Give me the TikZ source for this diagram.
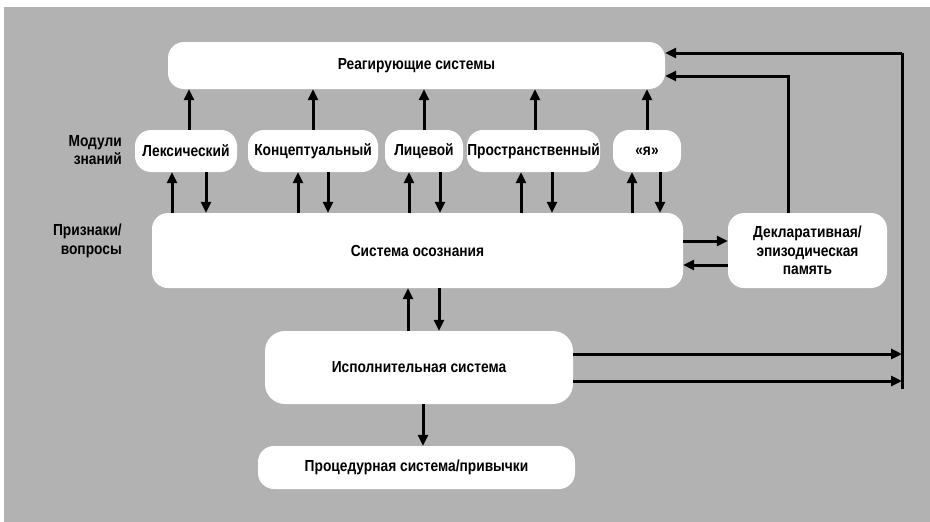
\documentclass[tikz,border=0pt]{standalone}
\usepackage{fontspec}
\setmainfont{Liberation Sans}[FakeStretch=0.86]
\usetikzlibrary{arrows.meta}
\definecolor{bggray}{RGB}{178,178,178}
\begin{document}
\begin{tikzpicture}[x=1pt,y=-1pt,
  box/.style={fill=white,draw=none,rounded corners=16pt,inner sep=0pt,align=center,
    font=\fontsize{16}{18.5}\selectfont\bfseries},
  lbl/.style={inner sep=0pt,align=right,anchor=east,font=\fontsize{16}{18.5}\selectfont\bfseries},
  arr/.style={line width=3pt,-{Triangle[length=11pt,width=10pt]}},
]
\useasboundingbox (0,0) rectangle (930,522);
\fill[white] (0,0) rectangle (930,522);
\fill[bggray] (4,7) rectangle (930,522);

% boxes
\node[box,minimum width=497pt,minimum height=47pt] (react) at (416.5,65.5) {Реагирующие системы};
\node[box,minimum width=102pt,minimum height=42pt] (lex) at (186,151) {Лексический};
\node[box,minimum width=130pt,minimum height=42pt] (conc) at (313,151) {Концептуальный};
\node[box,minimum width=78pt,minimum height=42pt] (face) at (424,151) {Лицевой};
\node[box,minimum width=133pt,minimum height=42pt] (spat) at (533.5,151) {Пространственный};
\node[box,minimum width=68pt,minimum height=42pt] (self) at (647,151) {«я»};
\node[box,minimum width=531pt,minimum height=75pt] (aware) at (417.5,250.5) {Система осознания};
\node[box,minimum width=159pt,minimum height=75pt] (decl) at (807.5,250.5) {Декларативная/\\эпизодическая\\память};
\node[box,minimum width=308pt,minimum height=73pt,rounded corners=20pt] (exec) at (419,367.5) {Исполнительная система};
\node[box,minimum width=317pt,minimum height=43pt] (proc) at (416.5,467.5) {Процедурная система/привычки};

% side labels
\node[lbl] (lmod) at (122,150) {Модули\\знаний};
\node[lbl] (lcue) at (122,241) {Признаки/\\вопросы};

% x positions
\coordinate (x1) at (189,0);  \coordinate (x1u) at (172,0); \coordinate (x1d) at (206,0);
\coordinate (x2) at (313,0);  \coordinate (x2u) at (298,0); \coordinate (x2d) at (328,0);
\coordinate (x3) at (424,0);  \coordinate (x3u) at (409,0); \coordinate (x3d) at (440,0);
\coordinate (x4) at (535,0);  \coordinate (x4u) at (521,0); \coordinate (x4d) at (552,0);
\coordinate (x5) at (647,0);  \coordinate (x5u) at (632,0); \coordinate (x5d) at (660,0);

% modules -> reacting systems
\foreach \m/\x in {lex/x1,conc/x2,face/x3,spat/x4,self/x5}{
  \draw[arr] (\m.north -| \x) -- (react.south -| \x);
}
% awareness <-> modules
\foreach \m/\u/\d in {lex/x1u/x1d,conc/x2u/x2d,face/x3u/x3d,spat/x4u/x4d,self/x5u/x5d}{
  \draw[arr] (aware.north -| \u) -- (\m.south -| \u);
  \draw[arr] (\m.south -| \d) -- (aware.north -| \d);
}

% awareness <-> declarative
\coordinate (yr) at (0,241);
\coordinate (yl) at (0,265);
\draw[arr] (aware.east |- yr) -- (decl.west |- yr);
\draw[arr] (decl.west |- yl) -- (aware.east |- yl);

% awareness <-> executive
\coordinate (xe1) at (408,0);
\coordinate (xe2) at (439,0);
\draw[arr] (exec.north -| xe1) -- (aware.south -| xe1);
\draw[arr] (aware.south -| xe2) -- (exec.north -| xe2);

% executive -> procedural
\coordinate (xp) at (423,0);
\draw[arr] (exec.south -| xp) -- (proc.north -| xp);

% feedback lines
\coordinate (vtop) at (902,53);
\coordinate (vbot) at (902,389);
\coordinate (ye1) at (0,354);
\coordinate (ye2) at (0,381);
\draw[line width=3pt] (vbot) -- (vtop);
\draw[arr] (vtop) -- (react.east |- vtop);
\draw[arr] (exec.east |- ye1) -- (vtop |- ye1);
\draw[arr] (exec.east |- ye2) -- (vtop |- ye2);
\coordinate (xd) at (788,0);
\coordinate (yd) at (0,76);
\draw[arr] (decl.north -| xd) -- (xd |- yd) -- (react.east |- yd);
\end{tikzpicture}
\end{document}
